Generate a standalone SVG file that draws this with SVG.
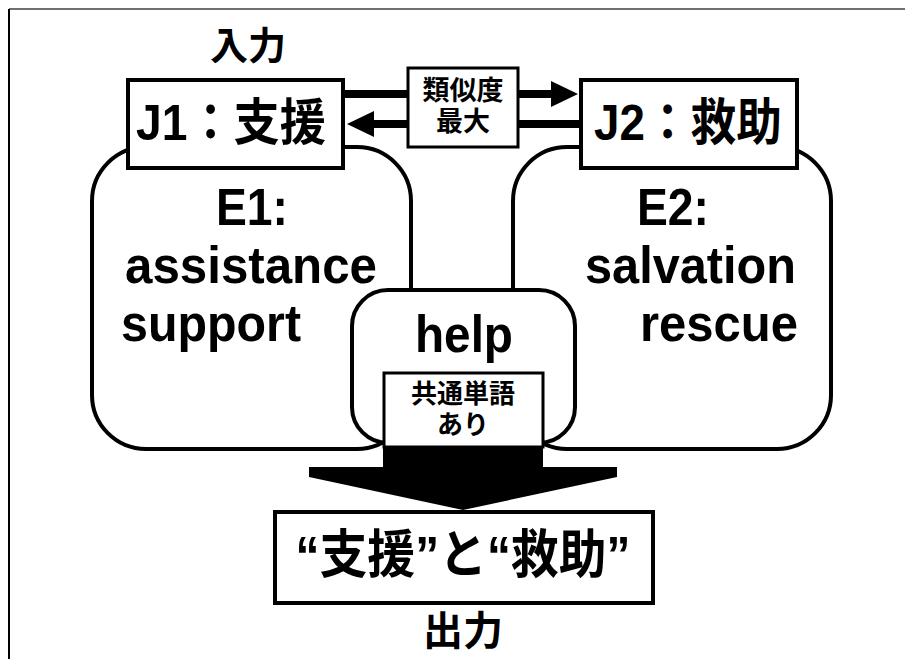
<svg xmlns="http://www.w3.org/2000/svg" width="905" height="659" viewBox="0 0 905 659">
<style>
.box{fill:#fff;stroke:#000;stroke-width:4}
.thin{fill:#fff;stroke:#000;stroke-width:3}
.lat{font-family:"Liberation Sans",Arial,sans-serif;font-weight:bold;fill:#000}
.jp{font-family:"Liberation Sans","Noto Sans CJK JP",sans-serif;font-weight:bold;fill:#000}
.arr{stroke:#000;stroke-width:8;fill:none}
</style>
<defs>
<marker id="ah" viewBox="0 0 28 26" refX="2" refY="13" markerWidth="28" markerHeight="26" markerUnits="userSpaceOnUse" orient="auto">
<path d="M0,0 L27,13 L0,26 Z" fill="#000"/>
</marker>
</defs>
<rect width="905" height="659" fill="#fff"/>
<line x1="9" y1="9" x2="905" y2="9" stroke="#707070" stroke-width="2"/>
<line x1="9" y1="9" x2="9" y2="659" stroke="#000" stroke-width="2"/>

<g id="label-input"><text class="jp" x="248" y="59" font-size="38" text-anchor="middle">入力</text></g>

<g id="E1">
<rect class="box" x="92" y="147" width="319" height="302" rx="54"/>
<text class="lat" x="252" y="225" font-size="52" text-anchor="middle" textLength="72" lengthAdjust="spacingAndGlyphs">E1:</text>
<text class="lat" x="125" y="283" font-size="52" textLength="252" lengthAdjust="spacingAndGlyphs">assistance</text>
<text class="lat" x="121" y="341" font-size="52" textLength="180" lengthAdjust="spacingAndGlyphs">support</text>
</g>
<g id="E2">
<rect class="box" x="513" y="147" width="318" height="302" rx="54"/>
<text class="lat" x="637" y="225" font-size="52" textLength="72" lengthAdjust="spacingAndGlyphs">E2:</text>
<text class="lat" x="585" y="283" font-size="52" textLength="211" lengthAdjust="spacingAndGlyphs">salvation</text>
<text class="lat" x="798" y="341" font-size="52" text-anchor="end" textLength="158" lengthAdjust="spacingAndGlyphs">rescue</text>
</g>
<g id="help">
<rect class="box" x="352" y="290" width="223" height="153" rx="36"/>
<text class="lat" x="464" y="352" font-size="52" text-anchor="middle" textLength="98" lengthAdjust="spacingAndGlyphs">help</text>
</g>

<g id="connectors">
<line class="arr" x1="343" y1="94" x2="553" y2="94" marker-end="url(#ah)"/>
<line class="arr" x1="580" y1="124" x2="372" y2="124" marker-end="url(#ah)"/>
<path d="M383,447 H543 V467 H617 V477 L463,510 L309,477 V467 H383 Z" fill="#000"/>
</g>

<g id="common">
<rect class="thin" x="384" y="373" width="159" height="74"/>
<text class="jp" x="463" y="403" font-size="26" text-anchor="middle">共通単語</text>
<text class="jp" x="463" y="434" font-size="26" text-anchor="middle">あり</text>
</g>
<g id="J1">
<rect class="box" x="128" y="80" width="215" height="88"/>
<text class="jp" x="231" y="140" font-size="50" text-anchor="middle" textLength="190" lengthAdjust="spacingAndGlyphs">J1：支援</text>
</g>
<g id="J2">
<rect class="box" x="581" y="80" width="216" height="88"/>
<text class="jp" x="688" y="140" font-size="50" text-anchor="middle" textLength="188" lengthAdjust="spacingAndGlyphs">J2：救助</text>
</g>
<g id="similarity">
<rect class="thin" x="408" y="68" width="110" height="79"/>
<text class="jp" x="463" y="100" font-size="27" text-anchor="middle">類似度</text>
<text class="jp" x="463" y="131" font-size="27" text-anchor="middle">最大</text>
</g>
<g id="output">
<rect class="box" x="275" y="512" width="378" height="91"/>
<text class="jp" x="463" y="573" font-size="52" text-anchor="middle" textLength="335" lengthAdjust="spacingAndGlyphs">“支援”と“救助”</text>
</g>
<g id="label-output"><text class="jp" x="463" y="645" font-size="40" text-anchor="middle">出力</text></g>
</svg>
